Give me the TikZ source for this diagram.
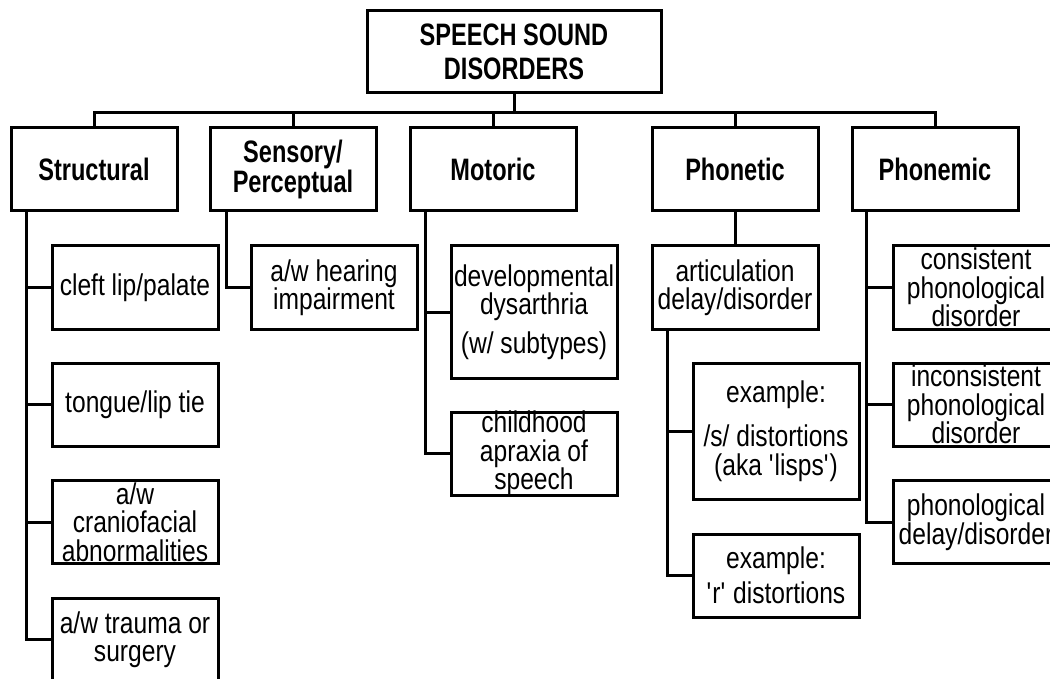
\documentclass[tikz,border=0pt]{standalone}
\usepackage{fontspec}
\setmainfont{Liberation Sans}[FakeStretch=0.82, BoldFeatures={FakeStretch=0.76}]
\tikzset{
  box/.style={draw, line width=3pt, minimum width=166pt, minimum height=83pt, inner sep=0pt},
  txt/.style={align=center, inner sep=0pt, font=\fontsize{30pt}{28.5pt}\selectfont},
  head/.style={align=center, inner sep=0pt, font=\bfseries\fontsize{31pt}{30pt}\selectfont},
  link/.style={line width=3pt}
}
\begin{document}
\begin{tikzpicture}[x=1pt, y=-1pt]
\useasboundingbox (0,0) rectangle (1050,679);
% top
\node[box, minimum width=294pt, minimum height=82pt, label={[head, font=\bfseries\fontsize{31pt}{34pt}\selectfont]center:{SPEECH SOUND\\DISORDERS}}] (root) at (514,52) {};
% categories
\node[box, label={[head]center:Structural}] (struct) at (94,169.5) {};
\node[box, label={[head]center:{Sensory/\\Perceptual}}] (sens) at (293,169.5) {};
\node[box, label={[head]center:Motoric}] (motor) at (493,169.5) {};
\node[box, label={[head]center:Phonetic}] (phonet) at (735,169.5) {};
\node[box, label={[head]center:Phonemic}] (phonem) at (935,169.5) {};
\foreach \n in {struct,sens,motor,phonet,phonem}
  \draw[link] (root.south) -- ++(0,18) -| (\n.north);
% structural
\node[box, label={[txt]center:cleft lip/palate}] (cleft) at (135,287.5) {};
\node[box, label={[txt]center:tongue/lip tie}] (tongue) at (135,404.5) {};
\node[box, label={[txt]center:{a/w\\craniofacial\\abnormalities}}] (cranio) at (135,522) {};
\node[box, label={[txt]center:{a/w trauma or\\surgery}}] (trauma) at (135,639.5) {};
\foreach \n in {cleft,tongue,cranio,trauma}
  \draw[link] ([xshift=17pt]struct.south west) |- (\n.west);
% sensory
\node[box, label={[txt]center:{a/w hearing\\impairment}}] (hearing) at (334,287.5) {};
\draw[link] ([xshift=18pt]sens.south west) |- (hearing.west);
% motoric
\node[box, minimum height=132pt, label={[txt]center:{developmental\\dysarthria\\[10pt](w/ subtypes)}}] (dysar) at (534,312) {};
\node[box, label={[txt]center:{childhood\\apraxia of\\speech}}] (apraxia) at (534,453.5) {};
\foreach \n in {dysar,apraxia}
  \draw[link] ([xshift=17pt]motor.south west) |- (\n.west);
% phonetic
\node[box, label={[txt]center:{articulation\\delay/disorder}}] (artic) at (735,287.5) {};
\draw[link] (phonet.south) -- (artic.north);
\node[box, minimum height=136pt, label={[txt]center:{example:\\[16pt]/s/ distortions\\(aka \textquotesingle lisps\textquotesingle)}}] (lisps) at (776,431) {};
\node[box, label={[txt]center:{example:\\[6pt]\textquotesingle r\textquotesingle{} distortions}}] (rdist) at (776,575.5) {};
\foreach \n in {lisps,rdist}
  \draw[link] ([xshift=17pt]artic.south west) |- (\n.west);
% phonemic
\node[box, label={[txt]center:{consistent\\phonological\\disorder}}] (consis) at (976,287.5) {};
\node[box, label={[txt]center:{inconsistent\\phonological\\disorder}}] (incons) at (976,404.5) {};
\node[box, label={[txt]center:{phonological\\delay/disorder}}] (phdelay) at (976,522) {};
\foreach \n in {consis,incons,phdelay}
  \draw[link] ([xshift=16pt]phonem.south west) |- (\n.west);
\end{tikzpicture}
\end{document}
